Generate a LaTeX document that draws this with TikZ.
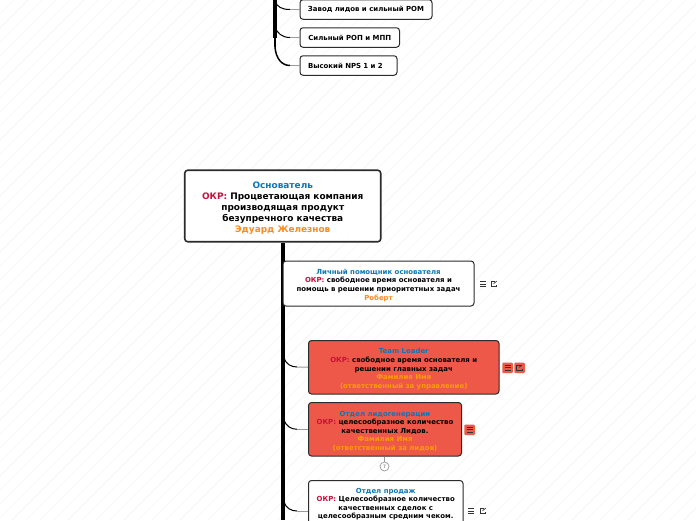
\documentclass[tikz,border=0pt]{standalone}
\usepackage{fontspec}
\setmainfont{DejaVu Sans}
\definecolor{boxred}{HTML}{EE5848}
\definecolor{titleblue}{HTML}{0A78B8}
\definecolor{okrred}{HTML}{C8103C}
\definecolor{nameorange}{HTML}{FB8C1E}
\definecolor{redorange}{HTML}{F89C08}
\definecolor{edgegrey}{HTML}{2B2B2B}
\definecolor{hatchgrey}{HTML}{F6F6F6}
\definecolor{branchgrey}{HTML}{9A9A9A}
\newcommand{\okr}{\textcolor{okrred}{ОКР:}}
\tikzset{
	basebox/.style={draw=edgegrey,rounded corners=3pt,align=center,inner sep=0pt,text=black,font=\bfseries\fontsize{6.95}{8.6}\selectfont},
	mainbox/.style={basebox,line width=1.6pt,fill=white,minimum width=196pt,minimum height=71.5pt,font=\bfseries\fontsize{8.95}{11}\selectfont},
	subbox/.style={basebox,line width=1pt,fill=white},
	redbox/.style={basebox,line width=1pt,fill=boxred},
	leafbox/.style={basebox,line width=1pt,fill=white,minimum height=19.5pt},
	branch/.style={line width=1pt,black},
	branchend/.style={line width=1pt,branchgrey},
	spine/.style={line width=3.2pt,black},
	iconbtn/.style={minimum size=10.5pt,inner sep=0pt,rounded corners=1pt},
	pics/notesicon/.style={code={
		\draw[line width=.8pt,black!80] (-3,2.4) -- (3,2.4) (-3,0) -- (3,0) (-3,-2.4) -- (3,-2.4);
	}},
	pics/linkicon/.style={code={
		\draw[line width=.7pt,black!80] (1,2.7) -- (-2.7,2.7) -- (-2.7,-2.7) -- (2.7,-2.7) -- (2.7,-1);
		\draw[line width=.7pt,black!80] (-.4,.4) -- (2.7,2.8);
	}}
}

\begin{document}
\begin{tikzpicture}[x=1pt,y=1pt]
	\useasboundingbox (0,-520) rectangle (696,0);
	\clip (0,-520) rectangle (696,0);
	\fill[white] (0,-520) rectangle (696,0);
	% faint background hatch
	\foreach \i in {0,14,...,1220}
		\draw[hatchgrey,line width=.5pt] (\i-520,-520) -- (\i,0);

	% top group
	\node[leafbox,minimum width=132pt] (lidplant) at (366,-9.5) {Завод лидов и сильный РОМ};
	\node[leafbox,minimum width=99.5pt] (strongrop) at (349.75,-37.5) {Сильный РОП и МПП};
	\node[leafbox,minimum width=97pt,text width=81pt,align=left] (highnps) at (348.5,-65.5) {Высокий NPS 1 и 2};
	\coordinate (topstart) at (275,0);
	\coordinate (topjoin) at (275,-38);
	\draw[spine] (topstart) -- (topjoin);
	\draw[line width=2.4pt,black] (topjoin) -- (275,-47);
	\draw[branch] (275,-1) .. controls (277,-7) and (282,-9.5) .. (290,-9.5);
	\draw[branchend] (290,-9.5) -- (lidplant.west);
	\draw[branch] (275,-27) .. controls (277,-33) and (282,-37.5) .. (290,-37.5);
	\draw[branchend] (290,-37.5) -- (strongrop.west);
	\draw[branch,line width=1.5pt] (275,-47) .. controls (276,-59) and (282,-65.5) .. (290,-65.5);
	\draw[branchend] (290,-65.5) -- (highnps.west);

	\node[mainbox] (founder) at (282.75,-206) {\rule{0pt}{11pt}\textcolor{titleblue}{Основатель}\\
		\okr{} Процветающая компания\\производящая продукт\\безупречного качества\\
		\textcolor{nameorange}{Эдуард Железнов}};
	\coordinate (spineend) at (283,-520);
	\draw[spine] (founder.south -| spineend) -- (spineend);

	\node[subbox,minimum width=191pt,minimum height=45pt] (helper) at (378.5,-283.5) {\rule{0pt}{9pt}\textcolor{titleblue}{Личный помощник основателя}\\
		\okr{} свободное время основателя и\\помощь в решении приоритетных задач\\
		\textcolor{nameorange}{Роберт}};
	\node[redbox,minimum width=190.5pt,minimum height=53.5pt] (teamlead) at (403.75,-367.25) {\rule{0pt}{9pt}\textcolor{titleblue}{Team Leader}\\
		\okr{} свободное время основателя и\\решении главных задач\\
		\textcolor{redorange}{Фамилия Имя}\\\textcolor{redorange}{(ответственный за управление)}};
	\node[redbox,minimum width=153pt,minimum height=53.5pt] (leadgen) at (385,-429.25) {\rule{0pt}{9pt}\textcolor{titleblue}{Отдел лидогенерации}\\
		\okr{} целесообразное количество\\качественных Лидов.\\
		\textcolor{redorange}{Фамилия Имя}\\\textcolor{redorange}{(ответственный за лидов)}};
	\node[subbox,anchor=north,minimum width=154.5pt] (sales) at (385.75,-480) {\rule{0pt}{12.5pt}\textcolor{titleblue}{Отдел продаж}\\
		\okr{} Целесообразное количество\\качественных сделок с\\целесообразным средним чеком.\\[30pt]\mbox{}};

	% branches off the spine
	\draw[branch] (284,-358) .. controls (286,-364) and (291,-367) .. (297,-367);
	\draw[branchend] (297,-367) -- (teamlead.west);
	\draw[branch] (284,-420) .. controls (286,-426) and (291,-429.25) .. (297,-429.25);
	\draw[branchend] (297,-429.25) -- (leadgen.west);
	\draw[branch] (284,-502) .. controls (286,-508) and (291,-511) .. (297,-511);
	\draw[branchend] (297,-511) -- (sales.west |- 0,-511);

	% collapsed children
	\node[draw=branchgrey,circle,fill=white,line width=.7pt,minimum size=9pt,inner sep=0pt,font=\fontsize{4.5}{5}\selectfont,text=black!70] (leadcount) at (384.5,-466.5) {7};
	\draw[line width=1pt,branchgrey] (leadgen.south -| leadcount) -- (leadcount.north);

	% icons next to the boxes
	\pic at (483,-284) {notesicon};
	\pic at (494,-284) {linkicon};
	\node[iconbtn,fill=boxred] (teamnotes) at (507.5,-367.75) {};
	\node[iconbtn,fill=boxred] (teamlink) at (519.5,-367.75) {};
	\pic at (teamnotes) {notesicon};
	\pic at (teamlink) {linkicon};
	\node[iconbtn,fill=boxred] (leadnotes) at (469.5,-429.75) {};
	\pic at (leadnotes) {notesicon};
	\pic at (471,-511) {notesicon};
	\pic at (483,-511) {linkicon};
\end{tikzpicture}
\end{document}
